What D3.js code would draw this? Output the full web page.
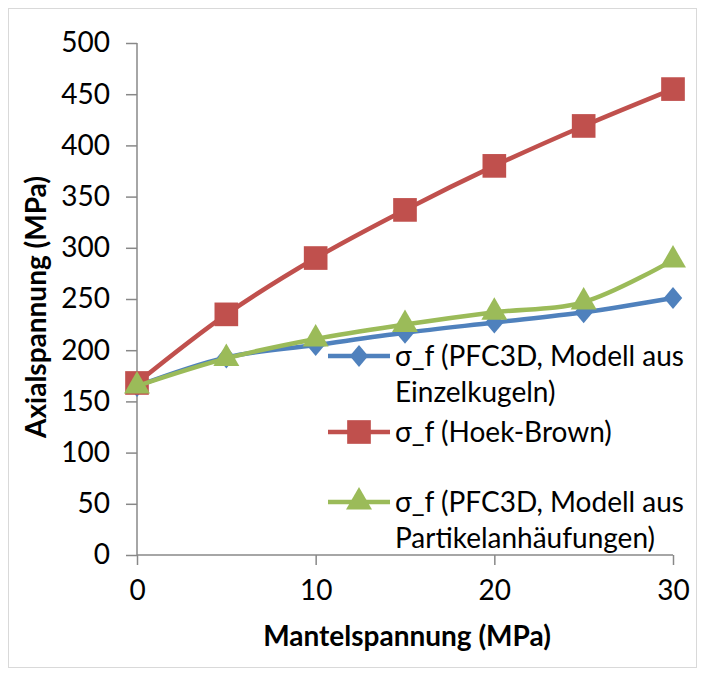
<!DOCTYPE html>
<html>
<head>
<meta charset="utf-8">
<script src="https://cdn.jsdelivr.net/npm/d3@7"></script>
<style>
  body { margin: 0; background: #fff; }
  text { font-family: Lato, "Noto Sans", sans-serif; }
</style>
</head>
<body>
<svg id="svg1"></svg>
<script>
const xValues = [0, 5, 10, 15, 20, 25, 30];
const pfcSingle = [165, 193, 205, 217, 227, 237, 251];
const hoekBrown = [168, 235, 290, 337, 380, 419, 455];
const pfcCluster = [165, 192, 211, 225, 237, 247, 288];
const xTicks = [0, 10, 20, 30];
const yTicks = [0, 50, 100, 150, 200, 250, 300, 350, 400, 450, 500];
const seriesNames = [
  ["σ_f (PFC3D, Modell aus", "Einzelkugeln)"],
  ["σ_f (Hoek-Brown)"],
  ["σ_f (PFC3D, Modell aus", "Partikelanhäufungen)"]
];

const width = 701, height = 675;
const margin = {top: 43, right: 28, bottom: 120, left: 137};
const fontSize = '28px';
const svg = d3.select('#svg1').attr('width', width).attr('height', height);

// outer frame
svg.append('rect')
    .attr('x', 8.5).attr('y', 8.5)
    .attr('width', 688).attr('height', 659)
    .attr('fill', 'none').attr('stroke', '#d9d9d9');

const x = d3.scaleLinear().domain([0, 30]).range([margin.left, width - margin.right]);
const y = d3.scaleLinear().domain([0, 500]).range([height - margin.bottom, margin.top]);

const yAxis = svg.append('g')
    .attr('transform', 'translate(' + margin.left + ',0)')
    .call(d3.axisLeft(y).tickValues(yTicks).tickSize(11).tickPadding(16));
const xAxis = svg.append('g')
    .attr('transform', 'translate(0,' + y(0) + ')')
    .call(d3.axisBottom(x).tickValues(xTicks).tickSize(10).tickPadding(15));
[xAxis, yAxis].forEach(function(g) {
  g.select('.domain').attr('stroke', '#888').attr('stroke-width', 1.5);
  g.selectAll('.tick line').attr('stroke', '#888').attr('stroke-width', 1.5);
  g.selectAll('.tick text').attr('fill', '#000').style('font-size', fontSize)
      .style('font-family', 'Lato, sans-serif');
});
yAxis.select('.domain').attr('d', 'M0,' + y(500) + 'V' + y(0));
xAxis.select('.domain').attr('d', 'M' + x(0) + ',0H' + x(30));

svg.append('text')
    .attr('transform', 'translate(46,' + ((y(0) + y(500)) / 2 + 8) + ') rotate(-90)')
    .attr('text-anchor', 'middle')
    .style('font-size', fontSize).style('font-weight', 'bold')
    .text('Axialspannung (MPa)');
svg.append('text')
    .attr('x', (x(0) + x(30)) / 2 + 2).attr('y', 646)
    .attr('text-anchor', 'middle')
    .style('font-size', fontSize).style('font-weight', 'bold')
    .text('Mantelspannung (MPa)');

const series = [
  {values: pfcSingle, color: '#4F81BD', symbol: d3.symbolDiamond, size: 140, scaleX: 1.45},
  {values: hoekBrown, color: '#C0504D', symbol: d3.symbolSquare, size: 560, scaleX: 1},
  {values: pfcCluster, color: '#9BBB59', symbol: d3.symbolTriangle, size: 292, scaleX: 1}
];

const line = d3.line()
    .x(function(d, i) { return x(xValues[i]); })
    .y(function(d) { return y(d); })
    .curve(d3.curveCatmullRom.alpha(0.5));

series.forEach(function(s) {
  svg.append('path')
      .attr('d', line(s.values))
      .attr('fill', 'none')
      .attr('stroke', s.color)
      .attr('stroke-width', 4.5)
      .attr('stroke-linejoin', 'round');
  svg.selectAll(null)
      .data(s.values)
      .enter()
      .append('path')
      .attr('transform', function(d, i) {
        return 'translate(' + x(xValues[i]) + ',' + y(d) + ') scale(' + s.scaleX + ',1)';
      })
      .attr('d', d3.symbol().type(s.symbol).size(s.size))
      .attr('fill', s.color);
});

// legend
const legendY = [356, 432, 502];
series.forEach(function(s, k) {
  const g = svg.append('g').attr('transform', 'translate(328,' + legendY[k] + ')');
  g.append('line')
      .attr('x1', 0).attr('x2', 62).attr('y1', 0).attr('y2', 0)
      .attr('stroke', s.color).attr('stroke-width', 4.5);
  g.append('path')
      .attr('transform', 'translate(31,0) scale(' + s.scaleX + ',1)')
      .attr('d', d3.symbol().type(s.symbol).size(s.size))
      .attr('fill', s.color);
  seriesNames[k].forEach(function(t, j) {
    g.append('text')
        .attr('x', 67).attr('y', 10 + j * 36)
        .style('font-size', fontSize)
        .attr('fill', '#000')
        .text(t);
  });
});
</script>
</body>
</html>
